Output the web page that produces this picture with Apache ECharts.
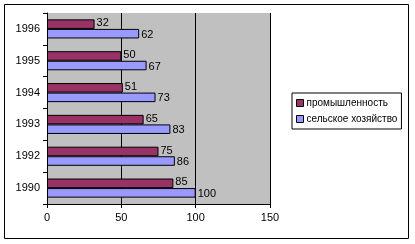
<!DOCTYPE html>
<html>
<head>
<meta charset="utf-8">
<script src="https://cdn.jsdelivr.net/npm/echarts@6/dist/echarts.min.js"></script>
<style>
  html, body { margin: 0; padding: 0; background: #fff; }
  #chart { width: 415px; height: 244px; }
</style>
</head>
<body>
<div id="chart"></div>
<script>
  // данные с картинки
  const years = ['1990', '1992', '1993', '1994', '1995', '1996'];
  const industry = [85, 75, 65, 51, 50, 32];
  const agriculture = [100, 86, 83, 73, 67, 62];
  const xTicks = [0, 50, 100, 150];

  const chart = echarts.init(document.getElementById('chart'));
  const font = 'Liberation Sans, Arial, sans-serif';

  chart.setOption({
    animation: false,
    graphic: [
      { type: 'rect', shape: { x: 4.5, y: 4.5, width: 404, height: 234 },
        style: { fill: 'none', stroke: '#000', lineWidth: 1 }, z: -1 }
    ],
    legend: {
      data: ['промышленность', 'сельское хозяйство'],
      orient: 'vertical',
      left: 292, top: 93,
      padding: [5, 4, 5, 4],
      itemGap: 6,
      itemWidth: 7, itemHeight: 7,
      borderColor: '#000', borderWidth: 1,
      backgroundColor: '#fff',
      icon: 'rect',
      textStyle: { fontFamily: font, fontSize: 10, color: '#000', padding: [0, 0, 0, -2] },
      itemStyle: { borderColor: '#000', borderWidth: 1 }
    },
    grid: { left: 47, right: 145, top: 13, bottom: 40, show: true, backgroundColor: '#c0c0c0', borderWidth: 0 },
    xAxis: {
      type: 'value', min: 0, max: 150, interval: 50,
      axisLine: { show: true, lineStyle: { color: '#000' } },
      axisTick: { show: true, length: 4, lineStyle: { color: '#000' } },
      axisLabel: { fontFamily: font, fontSize: 11, color: '#000', margin: 8,
        formatter: v => xTicks.includes(v) ? String(v) : '' },
      splitLine: { show: true, lineStyle: { color: '#000', width: 1 } }
    },
    yAxis: {
      type: 'category', data: years,
      axisLine: { show: true, lineStyle: { color: '#000' } },
      axisTick: { show: true, length: 4, lineStyle: { color: '#000' } },
      axisLabel: { fontFamily: font, fontSize: 11, color: '#000', margin: 7 }
    },
    series: [
      {
        name: 'промышленность', type: 'bar', data: industry,
        barGap: '0%', barCategoryGap: '40%',
        itemStyle: { color: '#993366', borderColor: '#000', borderWidth: 1 },
        label: { show: true, position: 'right', distance: 2, fontFamily: font, fontSize: 11, color: '#000', offset: [0, -1] }
      },
      {
        name: 'сельское хозяйство', type: 'bar', data: agriculture,
        barGap: '0%', barCategoryGap: '40%',
        itemStyle: { color: '#9999ff', borderColor: '#000', borderWidth: 1 },
        label: { show: true, position: 'right', distance: 2, fontFamily: font, fontSize: 11, color: '#000', offset: [0, 1] }
      }
    ]
  });
</script>
</body>
</html>
